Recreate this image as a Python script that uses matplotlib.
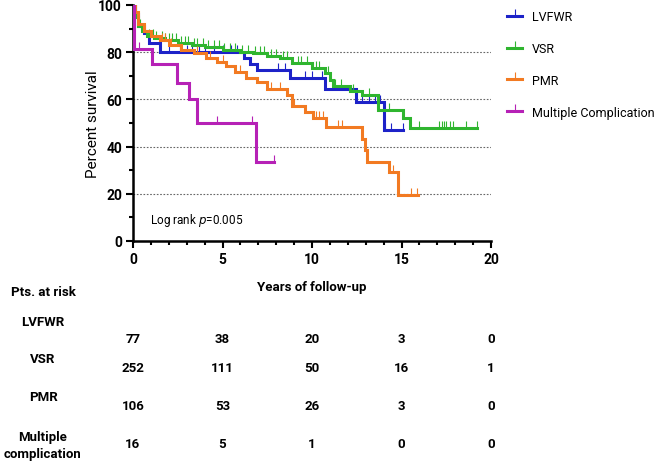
import numpy as np
import matplotlib
matplotlib.use('Agg')
import matplotlib.pyplot as plt
import matplotlib.transforms as mtransforms
from matplotlib.lines import Line2D

plt.rcParams['font.family'] = ['Roboto', 'DejaVu Sans']

#%% data (years, percent survival)

lvfwr_t = [0, 0.1, 0.3, 0.6, 0.9, 1.5, 6.2, 6.54, 6.93, 8.77, 10.7, 12.46, 14.0, 15.1]
lvfwr_s = [100, 96, 91, 88, 84, 80, 77.5, 75, 72.5, 69, 64.5, 58.7, 47, 47]
lvfwr_cens = [2.0, 2.6, 3.0, 3.3, 3.7, 4.0, 4.5, 5.0, 5.5, 5.8, 8.1, 8.5,
              9.6, 10.0, 10.56, 12.8, 13.2, 13.5, 13.8, 14.1, 14.4, 15.1]

vsr_t = [0, 0.1, 0.3, 0.5, 0.8, 1.2, 1.8, 2.5, 3.3, 4.0, 5.0, 6.0, 6.7, 7.5,
         8.2, 8.9, 10.0, 10.7, 11.0, 11.15, 12.1, 12.8, 13.7, 15.1, 15.5, 19.2]
vsr_s = [100, 95, 91, 89, 87, 86, 85, 84, 83, 82, 81, 80, 79.5, 78.5,
         77.4, 75.3, 73.2, 71, 68.2, 65.8, 63.5, 61.8, 55.4, 52.2, 47.7, 47.7]
vsr_cens = [0.4, 0.6, 0.9, 1.1, 1.3, 1.6, 1.8, 2.0, 2.2, 2.4, 2.7, 2.9, 3.1, 3.4,
            3.6, 3.9, 4.2, 4.5, 4.8, 5.1, 5.4, 5.7, 6.1, 6.4, 6.8, 7.1, 7.3, 7.7,
            8.0, 8.4, 8.6, 9.2, 9.4, 9.7, 10.2, 10.4, 10.9, 11.3, 11.6, 12.3,
            13.2, 14.3, 16.0, 17.1, 17.25, 17.4, 17.5, 17.7, 17.9, 18.6, 19.2]

pmr_t = [0, 0.1, 0.3, 0.6, 1.0, 1.5, 2.0, 2.7, 3.4, 4.1, 4.7, 5.2, 5.7, 6.3,
         6.9, 7.5, 8.6, 8.9, 9.6, 10.07, 10.8, 12.8, 12.96, 13.1, 14.3, 14.8, 15.9]
pmr_s = [100, 97, 92, 89, 87, 85, 83, 81, 79.6, 77.5, 76, 74, 71.5, 69,
         67.5, 64.4, 61.8, 57, 54.5, 52, 48.4, 43.4, 38.4, 33.5, 29.2, 19.3, 19.3]
pmr_cens = [1.6, 1.8, 2.1, 3.6, 4.3, 5.0, 6.0, 7.7, 8.2, 9.0, 10.2, 10.4, 10.6,
            11.45, 11.7, 14.5, 15.55, 15.85]

mult_t = [0, 0.07, 1.04, 2.48, 3.13, 3.6, 6.87, 7.88]
mult_s = [100, 81.25, 75, 67, 60, 50, 33.3, 33.3]
mult_cens = [0.33, 4.67, 6.63, 7.88]

groups = ['LVFWR', 'VSR', 'PMR', 'Multiple Complication']
colors = ['#1d22c8', '#2fb52f', '#f27a22', '#b621b6']

risk_times = [0, 5, 10, 15, 20]
risk_labels = ['LVFWR', 'VSR', 'PMR', 'Multiple\ncomplication']
risk_lvfwr = [77, 38, 20, 3, 0]
risk_vsr = [252, 111, 50, 16, 1]
risk_pmr = [106, 53, 26, 3, 0]
risk_mult = [16, 5, 1, 0, 0]

#%% plot

curves = [(lvfwr_t, lvfwr_s, lvfwr_cens), (vsr_t, vsr_s, vsr_cens),
          (pmr_t, pmr_s, pmr_cens), (mult_t, mult_s, mult_cens)]

fig = plt.figure(figsize=(6.61, 4.64), dpi=100)
ax = fig.add_axes([133/661, 1-242/464, 358/661, 236/464])

for yv in [20, 40, 60, 80]:
    ax.axhline(yv, color='#666666', lw=0.8, ls=(0, (1.5, 1.5)), zorder=1)

for (t, s, c), col in zip(curves, colors):
    ax.step(t, s, where='post', color=col, lw=2.2, zorder=3, solid_joinstyle='miter')
    t_arr = np.array(t)
    s_arr = np.array(s)
    idx = np.searchsorted(t_arr, c, side='right') - 1
    ax.plot(c, s_arr[idx], ls='none', marker=2, ms=5, mew=0.8, color=col, zorder=3)

ax.set_xlim(0, 20)
ax.set_ylim(0, 100)
ax.set_xticks([0, 5, 10, 15, 20])
ax.set_xticks(np.arange(0, 21, 1), minor=True)
ax.set_yticks([0, 20, 40, 60, 80, 100])
ax.set_yticks([10, 30, 50, 70, 90], minor=True)
ax.tick_params(which='major', length=5, width=1.5, labelsize=10, pad=3)
ax.tick_params(which='minor', length=3, width=1.5)
for lab in ax.get_xticklabels() + ax.get_yticklabels():
    lab.set_fontweight('bold')
for sp in ['top', 'right']:
    ax.spines[sp].set_visible(False)
for sp in ['left', 'bottom']:
    ax.spines[sp].set_linewidth(1.8)

ax.set_ylabel('Percent survival', fontsize=11, labelpad=-1)
ax.set_xlabel('Years of follow-up', fontsize=9.5, fontweight='bold', labelpad=10)
ax.text(0.95, 9, 'Log rank $\\it{p}$=0.005', fontsize=8.5, va='center', ha='left')

handles = [Line2D([0], [0], color=col, lw=2.2, marker=2, ms=5, mew=0.8) for col in colors]
fig.legend(handles, groups, loc='upper left', bbox_to_anchor=(496/661, 1.0),
           frameon=False, fontsize=9, handlelength=1.2, handletextpad=0.8,
           labelspacing=1.5, numpoints=1)

#%% number at risk table
trans = mtransforms.blended_transform_factory(ax.transData, fig.transFigure)
fig.text(43/661, 1-293/464, 'Pts. at risk', fontsize=9.5, fontweight='bold',
         ha='center', va='center')
label_y = [322, 360, 398, 446]
value_y = [340, 369, 407, 445]
rows = [risk_lvfwr, risk_vsr, risk_pmr, risk_mult]
for lab, ly, vy, row in zip(risk_labels, label_y, value_y, rows):
    fig.text(43/661, 1-ly/464, lab, fontsize=9.5, fontweight='bold',
             ha='center', va='center', linespacing=1.35)
    for t, v in zip(risk_times, row):
        ax.text(t, 1-vy/464, str(v), transform=trans, fontsize=9.5,
                fontweight='bold', ha='center', va='center', clip_on=False)

fig.savefig('out.png', dpi=100)
